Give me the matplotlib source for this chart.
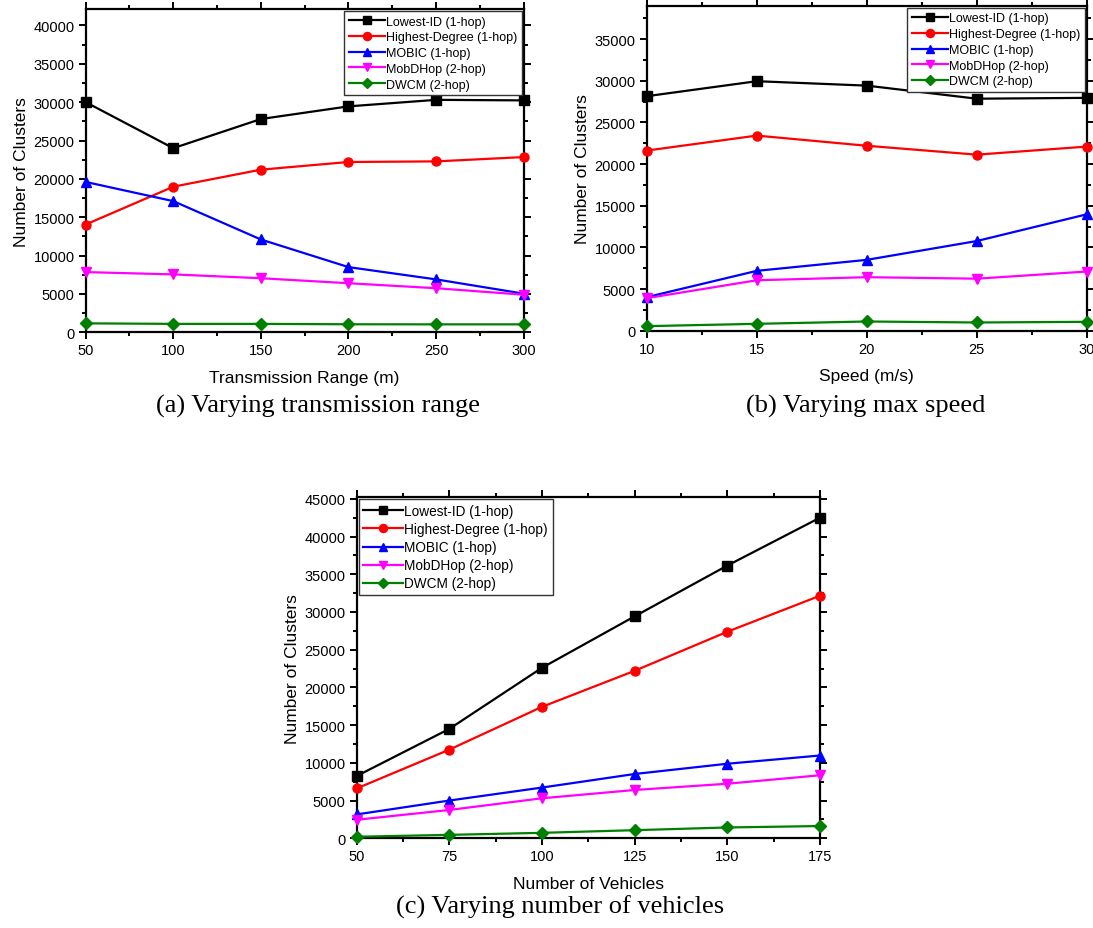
import matplotlib
matplotlib.use("Agg")
import matplotlib.pyplot as plt
from matplotlib.ticker import MultipleLocator

plt.rcParams['font.family'] = ['Liberation Sans', 'DejaVu Sans']

series_names = ["Lowest-ID (1-hop)", "Highest-Degree (1-hop)", "MOBIC (1-hop)",
                "MobDHop (2-hop)", "DWCM (2-hop)"]
colors = ["#000000", "#ff0000", "#0000ff", "#ff00ff", "#008000"]
markers = ["s", "o", "^", "v", "D"]

# (a) Transmission range
range_x = [50, 100, 150, 200, 250, 300]
range_lowest = [30000, 24000, 27800, 29450, 30300, 30230]
range_highest = [14050, 18980, 21200, 22200, 22280, 22840]
range_mobic = [19600, 17100, 12100, 8500, 6900, 5040]
range_mobd = [7850, 7550, 7050, 6400, 5750, 4900]
range_dwcm = [1170, 1100, 1100, 1050, 1040, 1040]

# (b) Max speed
speed_x = [10, 15, 20, 25, 30]
speed_lowest = [28150, 29950, 29420, 27850, 27950]
speed_highest = [21620, 23420, 22200, 21130, 22100]
speed_mobic = [4020, 7180, 8500, 10760, 13970]
speed_mobd = [3900, 6050, 6420, 6240, 7100]
speed_dwcm = [540, 820, 1100, 980, 1060]

# (c) Number of vehicles
veh_x = [50, 75, 100, 125, 150, 175]
veh_lowest = [8250, 14500, 22600, 29420, 36150, 42500]
veh_highest = [6600, 11750, 17420, 22200, 27380, 32150]
veh_mobic = [3160, 5000, 6720, 8520, 9880, 10970]
veh_mobd = [2450, 3750, 5300, 6400, 7230, 8350]
veh_dwcm = [200, 450, 720, 1070, 1430, 1620]

fig = plt.figure(figsize=(10.93, 9.29), dpi=100)

def make_panel(rect, x, ys, xlim, ylim, xmaj, xmin, xlabel, caption, cap_xy,
               legend_loc, leg_fs):
    ax = fig.add_axes(rect)
    for name, y, c, m in zip(series_names, ys, colors, markers):
        ms = 7 if m in ("^", "v") else (6 if m == "D" else 6.5)
        ax.plot(x, y, color=c, marker=m, markersize=ms, linewidth=1.6,
                label=name, clip_on=False, zorder=3)
    ax.set_xlim(*xlim)
    ax.set_ylim(*ylim)
    ax.xaxis.set_major_locator(MultipleLocator(xmaj))
    ax.xaxis.set_minor_locator(MultipleLocator(xmin))
    ax.yaxis.set_major_locator(MultipleLocator(5000))
    ax.yaxis.set_minor_locator(MultipleLocator(2500))
    ax.tick_params(which='both', direction='out', top=True, right=True,
                   labelsize=10.5, width=1.4)
    ax.tick_params(which='major', length=5, pad=3)
    ax.tick_params(which='minor', length=3)
    for s in ax.spines.values():
        s.set_linewidth(1.6)
    ax.set_xlabel(xlabel, fontsize=12.5, labelpad=9)
    ax.set_ylabel("Number of Clusters", fontsize=12.5, labelpad=3)
    leg = ax.legend(loc=legend_loc, fontsize=leg_fs, frameon=True, fancybox=False,
                    edgecolor='#333333', handlelength=2.9, handletextpad=0.1,
                    labelspacing=0.3, borderpad=0.35, borderaxespad=0.15,
                    framealpha=1, markerscale=0.9)
    leg.get_frame().set_linewidth(1.0)
    fig.text(cap_xy[0], cap_xy[1], caption, ha='center', va='center',
             fontsize=19, family='Liberation Serif')
    return ax

make_panel([0.0784, 0.6412, 0.4007, 0.3477], range_x,
           [range_lowest, range_highest, range_mobic, range_mobd, range_dwcm],
           (50, 300), (0, 42100), 50, 25, "Transmission Range (m)",
           "(a) Varying transmission range", (318 / 1093, 1 - 406 / 929),
           'upper right', 9)

make_panel([0.5917, 0.6430, 0.4026, 0.3492], speed_x,
           [speed_lowest, speed_highest, speed_mobic, speed_mobd, speed_dwcm],
           (10, 30), (0, 38950), 5, 2.5, "Speed (m/s)",
           "(b) Varying max speed", (866 / 1093, 1 - 406 / 929),
           'upper right', 9)

make_panel([0.3263, 0.0966, 0.4239, 0.3670], veh_x,
           [veh_lowest, veh_highest, veh_mobic, veh_mobd, veh_dwcm],
           (50, 175), (0, 45200), 25, 12.5, "Number of Vehicles",
           "(c) Varying number of vehicles", (560 / 1093, 1 - 907 / 929),
           'upper left', 9.8)

fig.savefig("out.png", dpi=100)
